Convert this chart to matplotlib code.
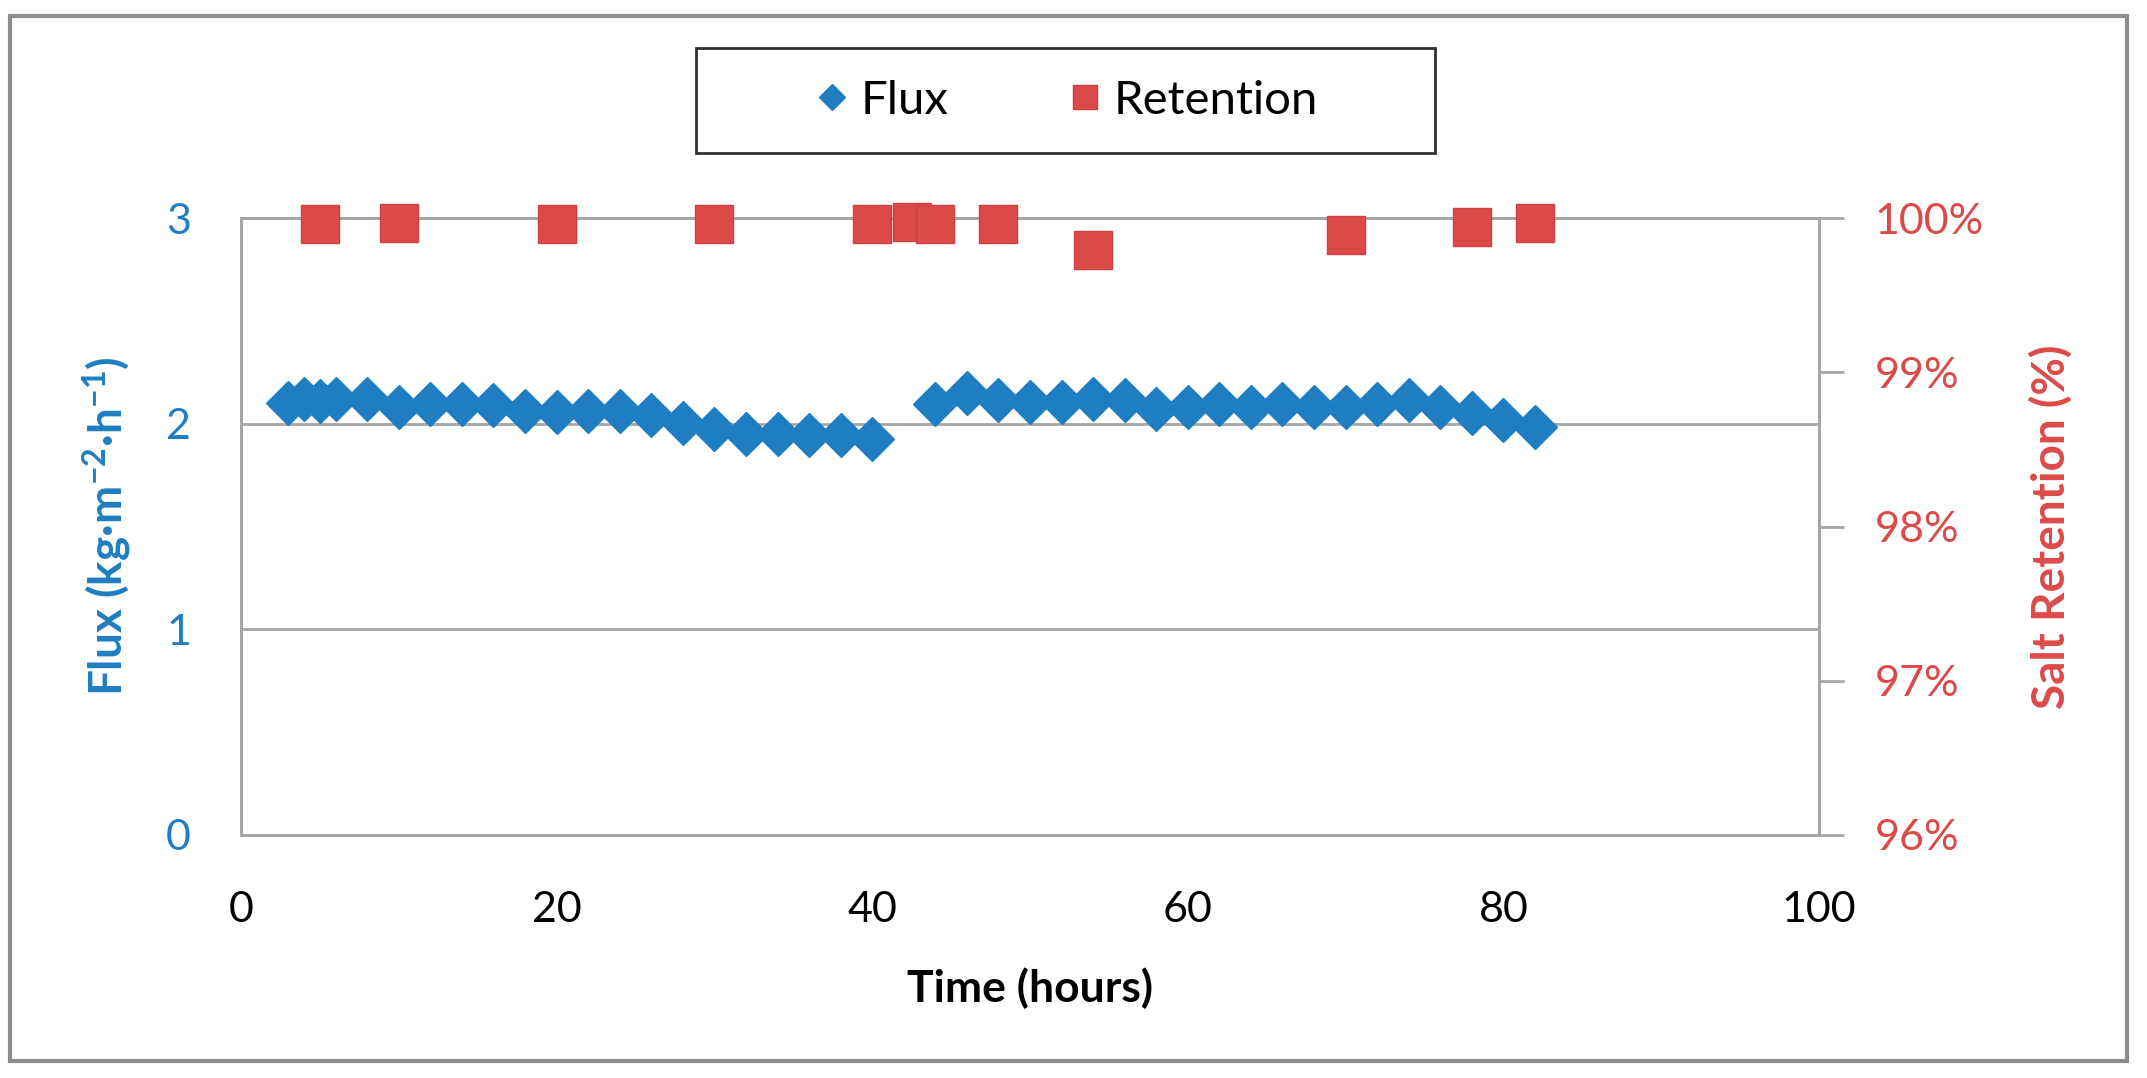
import numpy as np
import matplotlib.pyplot as plt
from matplotlib.patches import Rectangle
from matplotlib.ticker import FuncFormatter

plt.rcParams['font.family'] = ['Lato', 'DejaVu Sans']
plt.rcParams['mathtext.default'] = 'regular'

# flux data (hours, kg m-2 h-1)
flux_t = [3, 4, 5, 6, 8, 10, 12, 14, 16, 18, 20, 22, 24, 26, 28, 30, 32, 34, 36, 38, 40,
          44, 46, 48, 50, 52, 54, 56, 58, 60, 62, 64, 66, 68, 70, 72, 74, 76, 78, 80, 82]
flux = [2.10, 2.12, 2.11, 2.12, 2.12, 2.08, 2.095, 2.095, 2.09, 2.06, 2.055, 2.06, 2.06, 2.04,
        2.005, 1.976, 1.95, 1.95, 1.945, 1.945, 1.925,
        2.095, 2.147, 2.115, 2.106, 2.106, 2.12, 2.115, 2.07, 2.08, 2.095, 2.08, 2.095, 2.08,
        2.08, 2.095, 2.115, 2.08, 2.05, 2.02, 1.985]

# salt retention data (hours, fraction)
ret_t = [5, 10, 20, 30, 40, 42.5, 44, 48, 54, 70, 78, 82]
retention = [0.9996, 0.9997, 0.9996, 0.9996, 0.9996, 0.99975, 0.9996, 0.9996,
             0.9979, 0.9989, 0.9994, 0.9997]

blue = '#1F7EC1'
red = '#DC4A48'
grey = '#A6A6A6'

fig = plt.figure(figsize=(21.47, 10.78), dpi=100)
ax = fig.add_axes([241 / 2147, 1 - 835 / 1078, (1819 - 241) / 2147, (835 - 218) / 1078])
ax2 = ax.twinx()

ax.plot(flux_t, flux, ls='none', marker='D', ms=22, color=blue, mec=blue, label='Flux',
        clip_on=False, zorder=3)
ax2.plot(ret_t, retention, ls='none', marker='s', ms=27, color=red, mec='#D04040', mew=1,
         label='Retention', clip_on=False, zorder=3)

ax.set_xlim(0, 100)
ax.set_ylim(0, 3)
ax.set_xticks([0, 20, 40, 60, 80, 100])
ax.set_yticks([0, 1, 2, 3])
ax2.set_ylim(0.96, 1.00)
ax2.set_yticks([0.96, 0.97, 0.98, 0.99, 1.00])
ax2.yaxis.set_major_formatter(FuncFormatter(lambda v, p: f'{v * 100:.0f}%'))

ax.grid(axis='y', color=grey, lw=2)
ax.set_axisbelow(True)
for a in (ax, ax2):
    for s in a.spines.values():
        s.set_color(grey)
        s.set_linewidth(2)

ax.tick_params(axis='x', length=0, pad=40, labelsize=31, labelcolor='black')
ax.tick_params(axis='y', length=0, pad=36, labelsize=31, labelcolor=blue)
ax2.tick_params(axis='y', length=18, width=2, color=grey, pad=22, labelsize=31,
                labelcolor=red)

ax.set_xlabel('Time (hours)', fontsize=32, fontweight='bold', labelpad=28)
ax.set_ylabel('Flux (kg·m$^{-2}$·h$^{-1}$)', fontsize=33, fontweight='bold', color=blue,
              labelpad=23)
ax2.set_ylabel('Salt Retention (%)', fontsize=33, fontweight='bold', color=red, labelpad=33)

# legend with a square black box
fig.patches.append(Rectangle((696 / 2147, 1 - 153 / 1078), (1435 - 696) / 2147,
                             (153 - 48) / 1078, transform=fig.transFigure,
                             fill=False, ec='#303030', lw=2))
h1, l1 = ax.get_legend_handles_labels()
h2, l2 = ax2.get_legend_handles_labels()
fig.legend(h1 + h2, l1 + l2, loc='center', bbox_to_anchor=(1068 / 2147, 1 - 101 / 1078),
           ncol=2, frameon=False, fontsize=34, markerscale=0.62, handlelength=0.6,
           handletextpad=0.3, columnspacing=2.6)

# chart area border
fig.patches.append(Rectangle((10 / 2147, 1 - 1061 / 1078), (2127 - 10) / 2147,
                             (1061 - 16) / 1078, transform=fig.transFigure,
                             fill=False, ec='#8C8C8C', lw=3))

fig.savefig('out.png', dpi=100)
